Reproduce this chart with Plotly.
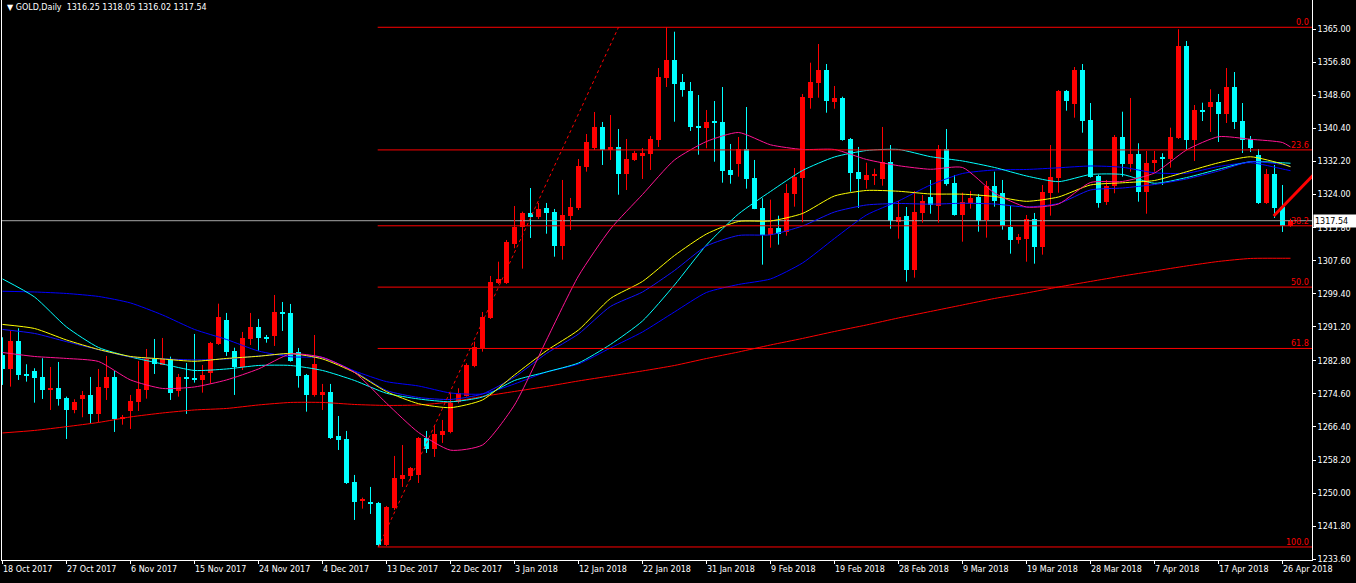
import plotly.graph_objects as go

# ---------------- data ----------------
date_labels = ["18 Oct 2017", "27 Oct 2017", "6 Nov 2017", "15 Nov 2017", "24 Nov 2017",
               "4 Dec 2017", "13 Dec 2017", "22 Dec 2017", "3 Jan 2018", "12 Jan 2018",
               "22 Jan 2018", "31 Jan 2018", "9 Feb 2018", "19 Feb 2018", "28 Feb 2018",
               "9 Mar 2018", "19 Mar 2018", "28 Mar 2018", "7 Apr 2018", "17 Apr 2018",
               "26 Apr 2018"]
label_bars = list(range(0, 161, 8))

open_ = [1284.26, 1280.78, 1287.73, 1279.55, 1280.29, 1278.80, 1275.65, 1276.07, 1273.59, 1270.62,
         1273.35, 1274.34, 1269.63, 1276.07, 1278.80, 1268.46, 1270.37, 1272.60, 1275.58, 1283.27,
         1281.77, 1283.27, 1275.40, 1278.88, 1278.63, 1278.06, 1279.87, 1286.98, 1292.93, 1285.24,
         1281.28, 1288.22, 1291.19, 1288.72, 1288.97, 1294.91, 1294.67, 1285.07, 1279.30, 1274.34,
         1274.41, 1275.08, 1264.18, 1263.43, 1252.77, 1248.00, 1247.81, 1247.56, 1237.15, 1246.32,
         1253.51, 1254.26, 1254.51, 1263.68, 1260.95, 1264.42, 1265.09, 1272.68, 1274.16, 1281.60,
         1286.06, 1293.50, 1302.10, 1302.10, 1311.85, 1316.06, 1319.53, 1318.47, 1320.70, 1319.70,
         1311.27, 1318.71, 1320.70, 1330.86, 1335.57, 1340.78, 1335.07, 1335.82, 1329.11, 1332.60,
         1333.59, 1334.08, 1337.55, 1352.92, 1357.39, 1351.93, 1349.70, 1341.10, 1340.60, 1342.09,
         1341.94, 1330.12, 1331.68, 1335.32, 1328.13, 1320.70, 1314.08, 1315.82, 1314.67, 1324.24,
         1328.21, 1348.04, 1351.76, 1354.91, 1347.05, 1348.04, 1337.80, 1329.70, 1327.71, 1328.63,
         1327.89, 1332.10, 1317.30, 1318.71, 1305.33, 1319.53, 1323.50, 1321.27, 1335.32, 1326.97,
         1319.03, 1322.01, 1323.42, 1317.72, 1326.15, 1324.41, 1315.99, 1312.84, 1313.09, 1317.97,
         1311.10, 1324.49, 1328.13, 1349.70, 1346.55, 1354.91, 1342.51, 1328.70, 1322.26, 1326.23,
         1338.37, 1331.60, 1334.08, 1324.66, 1331.92, 1333.41, 1332.84, 1338.05, 1360.86, 1337.55,
         1344.82, 1345.73, 1346.97, 1344.00, 1350.69, 1342.26, 1337.80, 1333.84, 1321.94, 1329.11,
         1321.02, 1316.25]
high = [1288.64, 1290.21, 1290.87, 1281.95, 1280.96, 1283.44, 1281.28, 1282.52, 1273.92, 1273.27,
        1275.33, 1278.80, 1280.78, 1284.01, 1280.29, 1269.38, 1274.34, 1282.77, 1285.74, 1288.22,
        1288.47, 1283.84, 1279.55, 1282.27, 1289.46, 1281.77, 1287.48, 1296.97, 1294.67, 1286.06,
        1289.96, 1294.67, 1293.18, 1289.21, 1299.13, 1297.39, 1296.90, 1285.99, 1279.55, 1289.21,
        1277.07, 1277.07, 1269.13, 1265.42, 1254.51, 1248.88, 1251.53, 1247.81, 1246.82, 1259.22,
        1261.94, 1256.49, 1263.90, 1265.42, 1266.90, 1268.14, 1274.84, 1276.00, 1282.20, 1287.55,
        1294.91, 1303.84, 1307.38, 1312.76, 1321.19, 1319.78, 1325.65, 1321.94, 1321.94, 1320.45,
        1327.64, 1323.18, 1332.84, 1339.04, 1344.50, 1342.02, 1343.75, 1340.28, 1337.80, 1334.83,
        1335.57, 1338.54, 1355.40, 1365.50, 1364.40, 1353.92, 1351.93, 1348.71, 1344.99, 1347.22,
        1350.69, 1336.56, 1338.30, 1345.73, 1332.60, 1323.10, 1322.75, 1318.79, 1326.65, 1330.61,
        1348.96, 1356.72, 1361.35, 1356.39, 1350.94, 1348.29, 1338.05, 1335.82, 1331.92, 1330.44,
        1340.78, 1336.31, 1322.43, 1320.94, 1324.91, 1323.92, 1327.64, 1336.31, 1340.28, 1328.88,
        1324.49, 1324.91, 1324.17, 1327.39, 1329.70, 1327.64, 1321.27, 1314.25, 1318.96, 1319.46,
        1326.40, 1336.31, 1349.95, 1349.95, 1355.65, 1356.39, 1346.72, 1328.95, 1327.64, 1338.79,
        1344.57, 1347.97, 1336.74, 1334.83, 1334.83, 1334.26, 1340.60, 1365.00, 1362.10, 1346.23,
        1346.80, 1350.12, 1348.96, 1355.40, 1354.41, 1346.72, 1338.54, 1335.32, 1330.37, 1331.36,
        1326.40, 1318.05]
low = [1276.82, 1276.40, 1278.06, 1277.64, 1272.43, 1273.35, 1270.62, 1271.69, 1263.43, 1269.80,
       1268.81, 1267.32, 1267.57, 1273.10, 1265.17, 1266.97, 1265.91, 1270.37, 1273.42, 1279.55,
       1281.77, 1273.10, 1273.92, 1269.63, 1277.39, 1274.91, 1277.14, 1286.73, 1284.01, 1274.34,
       1280.53, 1286.73, 1285.32, 1287.30, 1286.49, 1290.21, 1282.60, 1276.15, 1270.20, 1273.92,
       1270.62, 1263.43, 1260.70, 1252.27, 1243.35, 1246.15, 1244.84, 1236.65, 1236.90, 1245.83,
       1251.53, 1253.27, 1252.52, 1259.96, 1258.97, 1262.44, 1264.84, 1272.28, 1273.92, 1281.21,
       1285.07, 1293.18, 1301.85, 1301.85, 1310.71, 1305.65, 1313.26, 1317.97, 1314.32, 1308.62,
       1307.88, 1315.24, 1320.20, 1329.70, 1335.07, 1331.36, 1332.60, 1323.99, 1325.16, 1332.35,
       1327.89, 1330.12, 1335.82, 1350.69, 1342.09, 1348.29, 1339.79, 1333.91, 1335.49, 1332.17,
       1326.97, 1326.72, 1328.46, 1325.48, 1320.40, 1306.64, 1310.85, 1311.60, 1313.83, 1321.02,
       1317.15, 1345.31, 1348.04, 1344.32, 1345.31, 1337.38, 1324.74, 1320.70, 1325.48, 1326.40,
       1326.23, 1315.56, 1313.09, 1302.43, 1303.42, 1317.05, 1319.28, 1317.05, 1326.23, 1318.79,
       1312.34, 1320.53, 1314.82, 1313.34, 1321.02, 1315.32, 1309.37, 1311.84, 1307.38, 1306.89,
       1309.12, 1318.79, 1324.49, 1344.82, 1343.08, 1339.36, 1328.21, 1320.77, 1321.44, 1324.34,
       1328.46, 1329.70, 1322.26, 1319.28, 1329.70, 1326.40, 1330.69, 1337.80, 1335.07, 1332.35,
       1342.26, 1339.54, 1337.06, 1341.77, 1340.28, 1334.33, 1334.58, 1321.69, 1321.69, 1318.22,
       1314.75, 1316.02]
close = [1280.78, 1287.73, 1279.30, 1279.05, 1278.63, 1275.65, 1276.15, 1273.42, 1270.62, 1272.53,
         1274.34, 1269.63, 1276.32, 1278.80, 1268.39, 1268.96, 1272.85, 1275.83, 1283.27, 1282.02,
         1283.27, 1274.91, 1278.80, 1278.38, 1278.23, 1279.30, 1287.23, 1293.67, 1285.07, 1281.28,
         1288.47, 1291.19, 1288.54, 1288.22, 1294.91, 1294.42, 1282.84, 1279.05, 1274.34, 1282.10,
         1275.08, 1263.68, 1263.18, 1252.52, 1247.81, 1248.63, 1247.32, 1237.15, 1246.57, 1253.76,
         1254.51, 1256.24, 1263.68, 1260.95, 1264.67, 1265.42, 1272.28, 1274.91, 1281.77, 1286.16,
         1293.67, 1302.35, 1303.10, 1312.27, 1316.06, 1319.53, 1318.54, 1320.45, 1319.46, 1311.27,
         1318.96, 1320.94, 1331.18, 1337.06, 1340.78, 1335.07, 1335.82, 1329.11, 1332.84, 1334.33,
         1334.33, 1337.80, 1353.17, 1357.39, 1351.51, 1350.02, 1340.85, 1340.60, 1341.94, 1341.77,
         1329.94, 1328.95, 1335.32, 1327.96, 1320.53, 1314.08, 1315.74, 1314.32, 1324.41, 1328.38,
         1348.21, 1351.93, 1354.91, 1347.30, 1348.04, 1337.63, 1329.45, 1327.96, 1328.88, 1328.95,
         1332.22, 1317.55, 1318.47, 1305.33, 1319.70, 1322.43, 1321.44, 1335.32, 1326.72, 1318.96,
         1322.18, 1323.18, 1317.55, 1326.15, 1322.51, 1316.23, 1312.84, 1313.58, 1317.97, 1311.10,
         1324.66, 1328.38, 1349.70, 1347.30, 1354.91, 1342.34, 1328.46, 1322.01, 1326.15, 1338.37,
         1331.60, 1334.08, 1324.66, 1331.78, 1332.60, 1333.02, 1338.30, 1360.86, 1337.55, 1344.99,
         1344.57, 1346.97, 1344.00, 1350.69, 1342.02, 1337.55, 1335.57, 1321.94, 1329.11, 1320.70,
         1316.23, 1317.54]

ma_bars = list(range(0, 161, 4)) + [161]
ma_red = [1264.92, 1265.54, 1266.48, 1267.52, 1268.89, 1269.87, 1270.62, 1270.99, 1271.86, 1272.48,
          1272.48, 1271.98, 1271.74, 1271.86, 1272.60, 1273.97, 1275.20, 1276.44, 1277.81, 1279.05,
          1280.29, 1281.65, 1283.38, 1284.99, 1286.73, 1288.35, 1290.08, 1291.69, 1293.43, 1295.04,
          1296.65, 1298.26, 1299.62, 1301.11, 1302.48, 1303.84, 1305.08, 1306.32, 1307.44, 1308.18,
          1308.23, 1308.23]
ma_pink = [1284.87, 1283.88, 1283.39, 1282.64, 1278.06, 1275.95, 1276.32, 1278.06, 1280.79, 1284.50,
           1283.64, 1279.92, 1272.28, 1265.04, 1260.65, 1261.94, 1271.86, 1287.97, 1303.84, 1315.49,
           1324.04, 1332.60, 1337.18, 1339.41, 1336.36, 1335.20, 1335.20, 1332.72, 1331.18, 1330.29,
           1330.74, 1324.41, 1320.94, 1321.69, 1327.02, 1327.27, 1329.37, 1335.07, 1338.37, 1337.73,
           1336.93, 1335.82]
ma_cyan = [1303.10, 1298.63, 1291.20, 1286.11, 1283.76, 1282.02, 1280.41, 1280.78, 1281.65, 1281.65,
           1280.41, 1277.93, 1274.76, 1273.35, 1272.65, 1273.84, 1277.93, 1280.04, 1282.27, 1286.86,
           1292.68, 1301.61, 1311.52, 1319.21, 1324.79, 1329.99, 1333.34, 1334.95, 1335.20, 1333.42,
           1332.35, 1330.74, 1328.63, 1327.22, 1329.00, 1329.00, 1326.82, 1328.23, 1330.29, 1332.18,
           1331.90, 1331.78]
ma_yellow = [1291.82, 1290.82, 1287.97, 1285.62, 1283.88, 1283.26, 1282.69, 1283.39, 1283.93, 1284.63,
             1283.26, 1279.92, 1275.16, 1272.18, 1271.19, 1273.10, 1279.30, 1285.32, 1290.45, 1298.26,
             1302.48, 1308.92, 1314.25, 1317.35, 1317.47, 1319.33, 1323.67, 1325.04, 1324.84, 1324.17,
             1324.12, 1323.55, 1322.35, 1323.42, 1326.40, 1326.94, 1327.51, 1329.67, 1331.90, 1333.39,
             1331.60, 1330.94]
ma_blue_fast = [1290.58, 1289.59, 1287.55, 1285.57, 1283.76, 1283.31, 1283.02, 1283.26, 1284.01, 1284.50,
                1283.64, 1280.17, 1275.45, 1273.72, 1273.22, 1274.59, 1278.80, 1284.63, 1289.46, 1296.28,
                1299.87, 1305.20, 1311.27, 1313.88, 1314.05, 1316.23, 1319.70, 1321.44, 1321.81, 1321.64,
                1321.86, 1321.69, 1320.94, 1321.81, 1325.16, 1325.65, 1326.52, 1327.89, 1329.87, 1332.18,
                1331.48, 1330.94]
ma_blue_slow = [1300.05, 1299.87, 1299.50, 1298.76, 1297.15, 1294.17, 1290.58, 1288.10, 1285.23, 1283.81,
                1283.51, 1280.29, 1277.64, 1276.57, 1274.83, 1274.59, 1277.07, 1280.04, 1282.02, 1285.99,
                1289.96, 1294.92, 1299.75, 1301.73, 1303.10, 1307.06, 1313.14, 1318.96, 1322.43, 1326.40,
                1329.25, 1330.12, 1330.24, 1330.66, 1331.11, 1330.79, 1329.42, 1329.30, 1330.98, 1331.93,
                1330.37, 1329.94]

y_tick_labels = ["1365.00", "1356.80", "1348.60", "1340.40", "1332.20", "1324.00", "1315.80",
                 "1307.60", "1299.40", "1291.20", "1282.80", "1274.60", "1266.40", "1258.20",
                 "1250.00", "1241.80", "1233.60"]

fib_high = 1365.5
fib_low = 1236.65
fib_levels = [0.0, 23.6, 38.2, 50.0, 61.8, 100.0]
fib_low_bar = 47
fib_high_bar = 77

trend_bars = [158.9, 165.0]
trend_prices = [1318.7, 1331.2]

last_price = 1317.54
symbol_title = "GOLD,Daily"

# ---------------- style ----------------
UP = "#FF0000"
DOWN = "#00FFFF"
FONT = "DejaVu Sans"
X_RANGE = [-0.0625, 163.6875]
Y_RANGE = [1233.42, 1372.26]

fig = go.Figure()

# bid line
fig.add_trace(go.Scatter(x=[X_RANGE[0], X_RANGE[1]], y=[last_price, last_price], mode="lines",
                         line=dict(color="#A8A8A8", width=1), hoverinfo="skip"))

# wicks
for col, is_up in ((UP, True), (DOWN, False)):
    wx, wy = [], []
    for i, (o, h, l, c) in enumerate(zip(open_, high, low, close)):
        if (c >= o) == is_up:
            wx += [i, i, None]
            wy += [l, h, None]
    fig.add_trace(go.Scatter(x=wx, y=wy, mode="lines", line=dict(color=col, width=1),
                             hoverinfo="skip"))

# bodies
for col, is_up in ((UP, True), (DOWN, False)):
    bx, bb, bh = [], [], []
    for i, (o, c) in enumerate(zip(open_, close)):
        if (c >= o) == is_up:
            bx.append(i)
            bb.append(min(o, c))
            bh.append(max(abs(c - o), 0.25))
    fig.add_trace(go.Bar(x=bx, y=bh, base=bb, width=0.625, marker=dict(color=col, line=dict(width=0)),
                         hoverinfo="skip"))

# moving averages
for vals, col in ((ma_red, "#FF0000"), (ma_blue_slow, "#0000FF"), (ma_cyan, "#00FFFF"),
                  (ma_blue_fast, "#1010FF"), (ma_yellow, "#FFFF00"), (ma_pink, "#FF1493")):
    fig.add_trace(go.Scatter(x=ma_bars, y=vals, mode="lines",
                             line=dict(color=col, width=1, shape="spline", smoothing=0.6),
                             hoverinfo="skip"))

# fibonacci
rng = fib_high - fib_low
for lv in fib_levels:
    p = fib_high - lv / 100.0 * rng
    fig.add_trace(go.Scatter(x=[fib_low_bar - 0.1, X_RANGE[1]], y=[p, p], mode="lines",
                             line=dict(color="#FF0000", width=1), hoverinfo="skip"))
    fig.add_annotation(x=X_RANGE[1], y=p, xref="x", yref="y", text="%.1f" % lv, showarrow=False,
                       xanchor="right", yanchor="bottom", xshift=-1, yshift=-2,
                       font=dict(family=FONT, size=8, color="#FF0000"))
fig.add_trace(go.Scatter(x=[fib_low_bar, fib_high_bar], y=[fib_low, fib_high], mode="lines",
                         line=dict(color="#FF0000", width=1, dash="dot"), hoverinfo="skip"))

# trend line
fig.add_trace(go.Scatter(x=trend_bars, y=trend_prices, mode="lines",
                         line=dict(color="#FF0000", width=3), hoverinfo="skip"))

# x labels
for b, t in zip(label_bars, date_labels):
    fig.add_annotation(x=b, y=0, xref="x", yref="paper", text=t, showarrow=False,
                       xanchor="left", yanchor="top", xshift=-2, yshift=-3,
                       font=dict(family=FONT, size=8, color="white"))

# title
fig.add_annotation(x=0, y=1, xref="paper", yref="paper",
                   text="\u25BC\u00a0" + symbol_title + "\u00a0\u00a0" +
                        " ".join("%.2f" % v for v in (open_[-1], high[-1], low[-1], close[-1])),
                   showarrow=False, xanchor="left", yanchor="top", xshift=3, yshift=-1,
                   font=dict(family=FONT, size=8, color="white"))

# price box
fig.add_annotation(x=1, y=last_price, xref="paper", yref="y", text="%.2f" % last_price,
                   showarrow=False, xanchor="left", yanchor="middle", xshift=1,
                   width=40, height=10, align="left", bgcolor="white", borderpad=1,
                   font=dict(family=FONT, size=8, color="black"))

fig.update_layout(
    width=1356, height=583,
    margin=dict(l=2, r=44, t=0, b=23),
    paper_bgcolor="black", plot_bgcolor="black",
    showlegend=False, barmode="overlay", bargap=0,
    xaxis=dict(range=X_RANGE, showgrid=False, zeroline=False, showline=True, linecolor="white",
               linewidth=1, ticks="outside", ticklen=3, tickcolor="white",
               tickvals=label_bars, showticklabels=False, fixedrange=True),
    yaxis=dict(range=Y_RANGE, side="right", showgrid=False, zeroline=False, showline=True,
               mirror=True, linecolor="white", linewidth=1, ticks="outside", ticklen=3,
               tickcolor="white", tickvals=[float(t) for t in y_tick_labels],
               ticktext=y_tick_labels, tickfont=dict(family=FONT, size=8, color="white"),
               fixedrange=True),
)

fig.write_html("out.html", config={"displayModeBar": False},
               post_script="document.body.style.margin='0';document.body.style.overflow='hidden';")
